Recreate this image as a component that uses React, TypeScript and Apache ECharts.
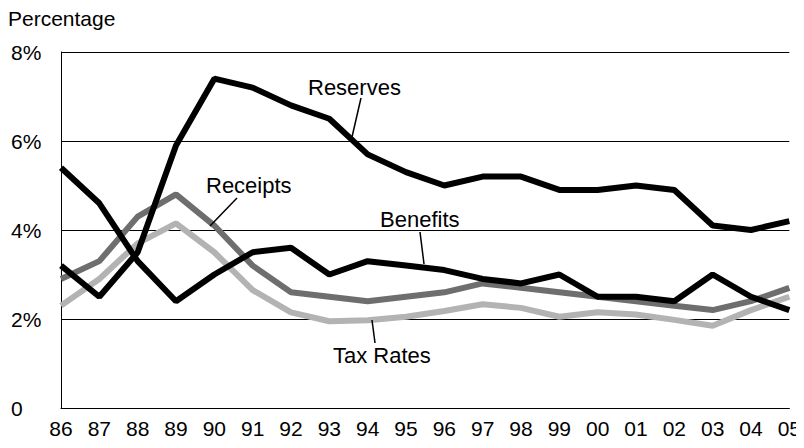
import React, { useEffect, useRef } from 'react'
import * as echarts from 'echarts'

const years = ['86', '87', '88', '89', '90', '91', '92', '93', '94', '95', '96', '97', '98', '99', '00', '01', '02', '03', '04', '05']
const reserves = [3.2, 2.5, 3.5, 5.9, 7.4, 7.2, 6.8, 6.5, 5.7, 5.3, 5.0, 5.2, 5.2, 4.9, 4.9, 5.0, 4.9, 4.1, 4.0, 4.2]
const benefits = [5.4, 4.6, 3.3, 2.4, 3.0, 3.5, 3.6, 3.0, 3.3, 3.2, 3.1, 2.9, 2.8, 3.0, 2.5, 2.5, 2.4, 3.0, 2.5, 2.2]
const receipts = [2.9, 3.3, 4.3, 4.8, 4.1, 3.2, 2.6, 2.5, 2.4, 2.5, 2.6, 2.8, 2.7, 2.6, 2.5, 2.4, 2.3, 2.2, 2.4, 2.7]
const taxRates = [2.3, 2.9, 3.7, 4.15, 3.5, 2.65, 2.15, 1.95, 1.97, 2.05, 2.18, 2.33, 2.25, 2.05, 2.15, 2.1, 1.98, 1.85, 2.2, 2.5]

const font = '"Liberation Sans", Arial, sans-serif'

const App = () => {
    const chartRef = useRef<HTMLDivElement>(null)

    useEffect(() => {
        if (!chartRef.current) return
        const chart = echarts.init(chartRef.current, null, { renderer: 'svg' })
        const line = (name: string, data: number[], color: string, z: number) => ({
            name,
            type: 'line',
            data,
            z,
            symbol: 'none',
            lineStyle: { color, width: 6 },
        })
        const label = (text: string, x: number, y: number, size = 21) => ({
            type: 'text',
            x,
            y,
            style: { text, fill: '#000', font: `${size}px ${font}`, textVerticalAlign: 'top' },
        })
        const leader = (x1: number, y1: number, x2: number, y2: number) => ({
            type: 'line',
            shape: { x1, y1, x2, y2 },
            style: { stroke: '#000', lineWidth: 1.5 },
            z: 10,
        })
        chart.setOption({
            animation: false,
            textStyle: { fontFamily: font },
            grid: { left: 52, right: 8, top: 44, bottom: 40 },
            xAxis: {
                type: 'category',
                data: years,
                boundaryGap: false,
                axisLine: { lineStyle: { color: '#000' } },
                axisTick: { show: false },
                axisLabel: { color: '#000', fontSize: 21, margin: 10 },
            },
            yAxis: {
                type: 'value',
                min: 0,
                max: 8,
                interval: 2,
                axisLine: { show: true, lineStyle: { color: '#000' } },
                axisTick: { show: false },
                splitLine: { lineStyle: { color: '#000', width: 1 } },
                axisLabel: {
                    color: '#000',
                    fontSize: 21,
                    align: 'left',
                    margin: 50,
                    formatter: (v: number) => (v === 0 ? '0' : `${v}%`),
                },
            },
            graphic: [
                label('Percentage', 0, 0, 21),
                label('Reserves', 300, 68, 22),
                label('Receipts', 198, 166, 22),
                label('Benefits', 372, 200, 22),
                label('Tax Rates', 325, 336, 22),
                leader(353, 90, 344, 129),
                leader(229, 190, 202, 218),
                leader(412, 224, 416, 256),
                leader(364, 312, 367, 335),
            ],
            series: [
                line('Tax Rates', taxRates, '#b3b3b3', 1),
                line('Receipts', receipts, '#6e6e6e', 2),
                line('Benefits', benefits, '#000', 3),
                line('Reserves', reserves, '#000', 4),
            ],
        })
        return () => chart.dispose()
    }, [])

    return <div ref={chartRef} style={{ width: 796, height: 440 }} />
}

export default App
